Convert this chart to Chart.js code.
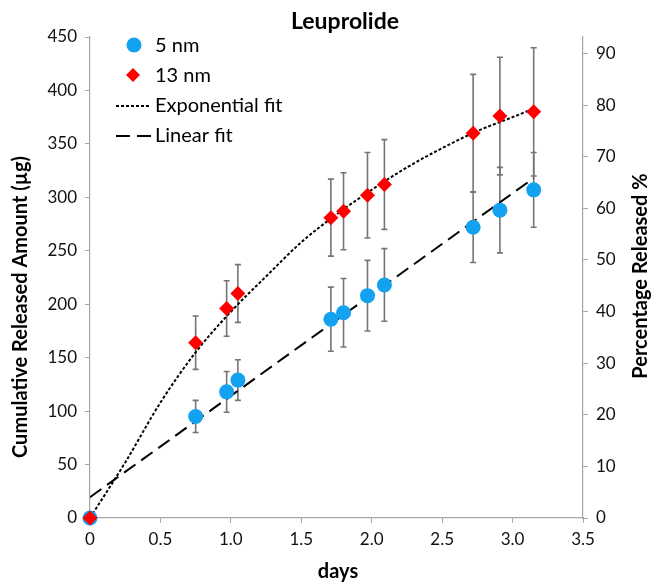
<!DOCTYPE html>
<html>
<head>
<meta charset="utf-8">
<script src="https://cdn.jsdelivr.net/npm/chart.js@4.4.0/dist/chart.umd.min.js"></script>
<style>
  html, body { margin: 0; padding: 0; background: #fff; }
</style>
</head>
<body>
<canvas id="grafica" width="652" height="583"></canvas>
<script>
// --- DATOS ---
const dias = [0, 0.75, 0.97, 1.05, 1.71, 1.8, 1.97, 2.09, 2.72, 2.91, 3.15];
const nm5 = [0, 95, 118, 129, 186, 192, 208, 218, 272, 288, 307];
const nm5Err = [0, 15, 19, 19, 30, 32, 33, 34, 33, 40, 35];
const nm13 = [0, 164, 196, 210, 281, 287, 302, 312, 360, 376, 380];
const nm13Err = [0, 25, 26, 27, 36, 36, 40, 42, 55, 55, 60];

// curvas de ajuste
const expX = [0, 0.25, 0.5, 0.75, 1.0, 1.25, 1.5, 1.75, 2.0, 2.25, 2.5, 2.75, 3.0, 3.15];
const expY = [0, 52, 108, 155, 193, 226, 258, 284, 307, 328, 346, 362, 375, 383];
const linX = [0, 3.15];
const linY = [19.5, 318];

const xTicks = [0, 0.5, 1, 1.5, 2, 2.5, 3, 3.5];
const pctTicks = [0, 10, 20, 30, 40, 50, 60, 70, 80, 90];

const FUENTE = "Lato, 'DejaVu Sans', sans-serif";
const AZUL = "#12a2f0";
const ROJO = "#ff0000";
const GRIS = "#a6a6a6";

const pares = (xs, ys) => xs.map((x, i) => ({ x: x, y: ys[i] }));

// --- PLUGIN: barras de error, titulos y leyenda ---
const extras = {
    id: "extras",
    beforeDatasetsDraw(chart) {
        const ctx = chart.ctx;
        const sx = chart.scales.x;
        const sy = chart.scales.y;
        ctx.save();
        ctx.strokeStyle = "#757575";
        ctx.lineWidth = 1.6;
        const barras = (vals, errs) => {
            vals.forEach((v, i) => {
                if (!errs[i]) return;
                const px = sx.getPixelForValue(dias[i]);
                const top = sy.getPixelForValue(v + errs[i]);
                const bot = sy.getPixelForValue(v - errs[i]);
                ctx.beginPath();
                ctx.moveTo(px, top); ctx.lineTo(px, bot);
                ctx.moveTo(px - 3, top); ctx.lineTo(px + 3, top);
                ctx.moveTo(px - 3, bot); ctx.lineTo(px + 3, bot);
                ctx.stroke();
            });
        };
        barras(nm5, nm5Err);
        barras(nm13, nm13Err);
        ctx.restore();
    },
    afterDraw(chart) {
        const ctx = chart.ctx;
        ctx.save();
        ctx.fillStyle = "#000";
        ctx.textBaseline = "alphabetic";

        // titulo
        ctx.textAlign = "center";
        ctx.font = "bold 23px " + FUENTE;
        ctx.fillText("Leuprolide", 345, 29);

        // titulos de ejes
        ctx.font = "bold 20px " + FUENTE;
        ctx.fillText("days", 338, 578);

        ctx.save();
        ctx.translate(27, 307);
        ctx.rotate(-Math.PI / 2);
        ctx.fillText("Cumulative Released Amount (µg)", 0, 0);
        ctx.restore();

        ctx.save();
        ctx.translate(647, 276);
        ctx.rotate(-Math.PI / 2);
        ctx.fillText("Percentage Released %", 0, 0);
        ctx.restore();

        // leyenda
        ctx.textAlign = "left";
        ctx.textBaseline = "middle";
        ctx.font = "20px " + FUENTE;
        ctx.fillStyle = AZUL;
        ctx.beginPath();
        ctx.arc(134, 45, 7.5, 0, Math.PI * 2);
        ctx.fill();
        ctx.fillStyle = ROJO;
        ctx.beginPath();
        ctx.moveTo(133, 68); ctx.lineTo(140, 75); ctx.lineTo(133, 82); ctx.lineTo(126, 75);
        ctx.closePath();
        ctx.fill();

        ctx.strokeStyle = "#000";
        ctx.lineWidth = 2;
        ctx.setLineDash([3, 2]);
        ctx.beginPath(); ctx.moveTo(116, 106); ctx.lineTo(151, 106); ctx.stroke();
        ctx.setLineDash([14, 7]);
        ctx.beginPath(); ctx.moveTo(116, 136); ctx.lineTo(152, 136); ctx.stroke();
        ctx.setLineDash([]);

        ctx.fillStyle = "#000";
        ctx.fillText("5 nm", 155, 46);
        ctx.fillText("13 nm", 155, 76);
        ctx.fillText("Exponential fit", 155, 106);
        ctx.fillText("Linear fit", 155, 136);
        ctx.restore();
    }
};

const ejeComun = {
    grid: { display: true, drawOnChartArea: false, drawTicks: true, tickLength: 5, color: GRIS },
    border: { color: GRIS, width: 1.2 }
};

new Chart(document.getElementById("grafica"), {
    type: "scatter",
    data: {
        datasets: [
            {
                label: "13 nm",
                data: pares(dias, nm13),
                pointStyle: "rectRot",
                pointRadius: 7.5,
                backgroundColor: ROJO,
                borderColor: ROJO,
                borderWidth: 0,
                clip: false,
                order: 0
            },
            {
                label: "5 nm",
                data: pares(dias, nm5),
                pointStyle: "circle",
                pointRadius: 7.5,
                backgroundColor: AZUL,
                borderColor: AZUL,
                borderWidth: 0,
                clip: false,
                order: 1
            },
            {
                label: "Exponential fit",
                type: "line",
                data: pares(expX, expY),
                borderColor: "#000",
                borderWidth: 2,
                borderDash: [3, 2],
                pointRadius: 0,
                fill: false,
                cubicInterpolationMode: "monotone",
                order: 2
            },
            {
                label: "Linear fit",
                type: "line",
                data: pares(linX, linY),
                borderColor: "#000",
                borderWidth: 2,
                borderDash: [14, 7],
                pointRadius: 0,
                fill: false,
                order: 3
            }
        ]
    },
    options: {
        responsive: false,
        animation: false,
        layout: { padding: { top: 37, left: 0, right: 0, bottom: 0 } },
        plugins: {
            legend: { display: false },
            tooltip: { enabled: false },
            title: { display: false }
        },
        scales: {
            x: {
                type: "linear",
                min: 0,
                max: 3.5,
                afterFit: (s) => { s.height = 65; },
                afterBuildTicks: (s) => { s.ticks = xTicks.map(v => ({ value: v })); },
                ticks: { color: "#111", font: { family: FUENTE, size: 17 }, padding: 6 },
                ...ejeComun
            },
            y: {
                position: "left",
                min: 0,
                max: 450,
                afterFit: (s) => { s.width = 90; },
                ticks: { stepSize: 50, color: "#111", font: { family: FUENTE, size: 17 }, padding: 8 },
                ...ejeComun
            },
            y2: {
                position: "right",
                min: 0,
                max: 93.2,
                afterFit: (s) => { s.width = 69; },
                afterBuildTicks: (s) => { s.ticks = pctTicks.map(v => ({ value: v })); },
                ticks: { color: "#111", font: { family: FUENTE, size: 17 }, padding: 8 },
                ...ejeComun
            }
        }
    },
    plugins: [extras]
});
</script>
</body>
</html>
